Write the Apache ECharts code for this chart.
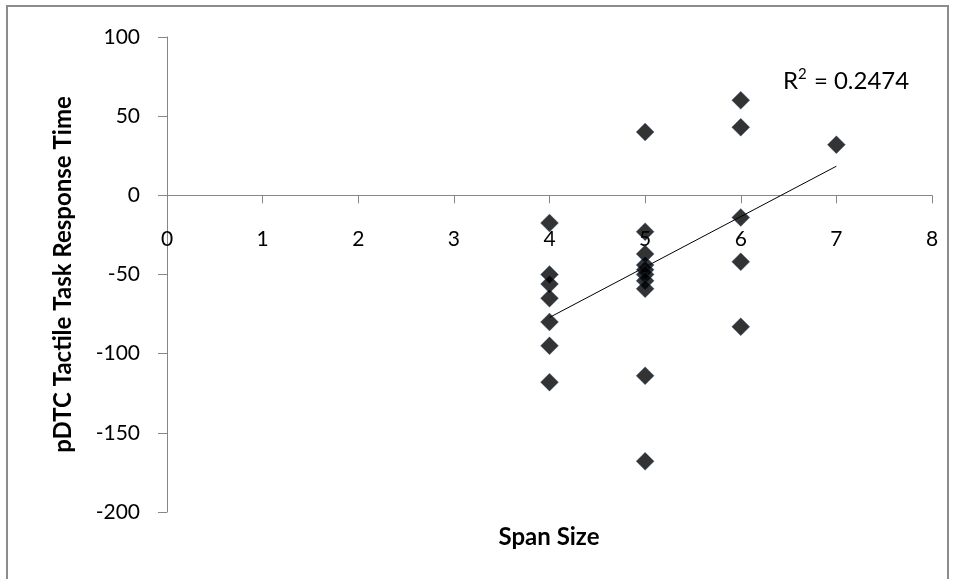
<!DOCTYPE html>
<html>
<head>
<meta charset="utf-8">
<script src="https://cdn.jsdelivr.net/npm/echarts@6/dist/echarts.min.js"></script>
<style>html,body{margin:0;padding:0;background:#fff}#c{width:957px;height:579px}</style>
</head>
<body>
<div id="c"></div>
<script>
// Data
const spanSize = [4,4,4,4,4,4,4, 5,5,5,5,5,5,5,5,5,5, 6,6,6,6,6, 7];
const responseTime = [-17.5,-50,-56,-65,-80,-95,-118, 40,-23,-37,-44,-47,-50,-54,-59,-114,-168, 60,43,-14,-42,-83, 32];
const xTicks = [0,1,2,3,4,5,6,7,8];
const yTicks = [-200,-150,-100,-50,0,50,100];
const rSquaredValue = '0.2474';
const xTitle = 'Span Size';
const yTitle = 'pDTC Tactile Task Response Time';

// Linear least-squares trendline from the data
const n = spanSize.length;
const mx = spanSize.reduce((a,b)=>a+b,0)/n;
const my = responseTime.reduce((a,b)=>a+b,0)/n;
let sxy = 0, sxx = 0;
for (let i=0;i<n;i++){ sxy += (spanSize[i]-mx)*(responseTime[i]-my); sxx += (spanSize[i]-mx)**2; }
const slope = sxy/sxx, intercept = my - slope*mx;
const xMin = Math.min(...spanSize), xMax = Math.max(...spanSize);
const trend = [[xMin, intercept+slope*xMin],[xMax, intercept+slope*xMax]];

// grid geometry
const gridTop = 37, gridBottom = 67, chartH = 579;
const plotH = chartH - gridTop - gridBottom;
const yMinV = yTicks[0], yMaxV = yTicks[yTicks.length-1];
// move x axis (line, ticks, labels) up to the y = 0 crossing
const zeroOffset = -plotH * (0 - yMinV) / (yMaxV - yMinV);

const FONT = 'Lato';
const chart = echarts.init(document.getElementById('c'), null, {renderer:'canvas'});
chart.setOption({
  animation:false,
  backgroundColor:'#fff',
  grid:{left:167,right:25,top:gridTop,bottom:gridBottom,containLabel:false},
  xAxis:{
    type:'value', min:xTicks[0], max:xTicks[xTicks.length-1], interval:1,
    position:'bottom', offset:zeroOffset,
    axisLine:{onZero:false,lineStyle:{color:'#868686',width:1}},
    axisTick:{show:true,inside:false,length:8,lineStyle:{color:'#868686'}},
    axisLabel:{color:'#000',fontFamily:FONT,fontSize:21,margin:33},
    splitLine:{show:false}
  },
  yAxis:{
    type:'value', min:yMinV, max:yMaxV, interval:50,
    name:yTitle, nameLocation:'middle', nameRotate:90, nameGap:92,
    nameTextStyle:{color:'#000',fontFamily:FONT,fontSize:24,fontWeight:'bold'},
    axisLine:{show:true,onZero:false,lineStyle:{color:'#868686',width:1}},
    axisTick:{show:true,length:9,lineStyle:{color:'#868686'}},
    axisLabel:{color:'#000',fontFamily:FONT,fontSize:21,margin:27},
    splitLine:{show:false}
  },
  graphic:[
    {type:'rect',shape:{x:7,y:6,width:941,height:620},style:{fill:'none',stroke:'#8c8c8c',lineWidth:2},silent:true,z:-1},
    {type:'text',style:{text:xTitle,x:549,y:537,align:'center',verticalAlign:'middle',font:'bold 24px Lato',fill:'#000'}},
    {type:'text',style:{
      text:'{a|R}{s|2}{a| = ' + rSquaredValue + '}',
      x:783,y:80,align:'left',verticalAlign:'middle',
      rich:{
        a:{fontFamily:FONT,fontSize:24,color:'#000',lineHeight:26,verticalAlign:'bottom'},
        s:{fontFamily:FONT,fontSize:15,color:'#000',lineHeight:26,verticalAlign:'top',padding:[0,1,0,0]}
      }
    }}
  ],
  series:[
    {type:'scatter',data:spanSize.map((x,i)=>[x,responseTime[i]]),symbol:'diamond',symbolSize:18,
     itemStyle:{color:'#000',borderColor:'#3d6fae',borderWidth:0.4},z:3},
    {type:'line',data:trend,symbol:'none',lineStyle:{color:'#000',width:1},z:2,silent:true}
  ]
});
</script>
</body>
</html>
